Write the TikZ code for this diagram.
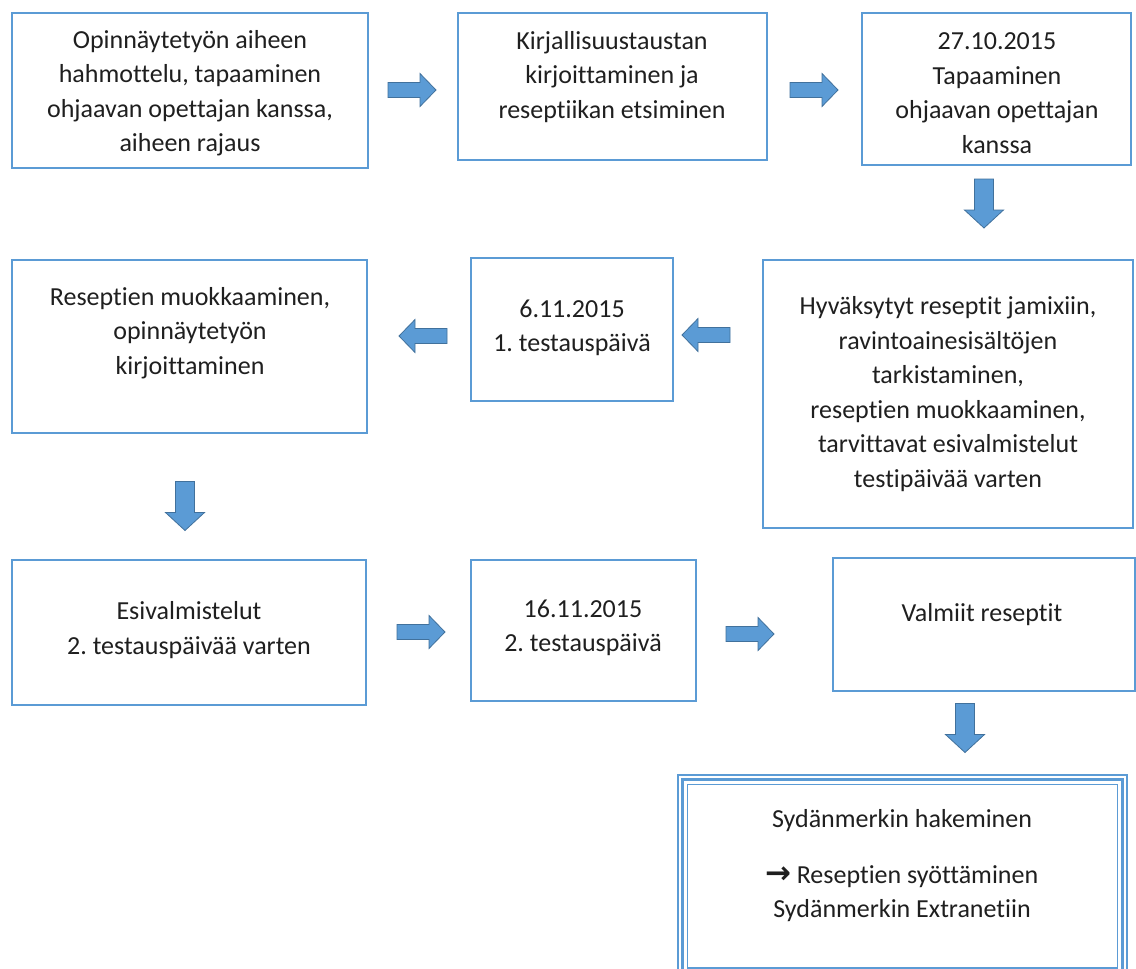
\documentclass[tikz,border=0pt]{standalone}
\usepackage{fontspec}
\setmainfont{Carlito}[RawFeature={-liga;-clig;-dlig;-calt;-rlig}]
\newfontfamily\arrowfont{DejaVu Sans}
\definecolor{boxblue}{HTML}{5B9BD5}
\definecolor{arrowfill}{HTML}{5B9BD5}
\definecolor{arrowedge}{HTML}{41719C}
\definecolor{txtcol}{HTML}{1F1F1F}
\frenchspacing
\tikzset{
  box/.style={draw=boxblue, line width=1.3pt, rectangle, inner sep=0pt, fill=white},
  txt/.style={align=center, inner sep=0pt, text=txtcol, font=\fontsize{26pt}{34.5pt}\selectfont},
  arrowbody/.style={fill=arrowfill, draw=arrowedge, line width=0.8pt, line join=miter},
  harrow/.pic={\draw[arrowbody] (-24,-7.5) -- (8,-7.5) -- (8,-16.5) -- (24,0) -- (8,16.5) -- (8,7.5) -- (-24,7.5) -- cycle;},
  varrow/.pic={\draw[arrowbody] (-24.5,-9.5) -- (6.5,-9.5) -- (6.5,-19.5) -- (24.5,0) -- (6.5,19.5) -- (6.5,9.5) -- (-24.5,9.5) -- cycle;}
}
\begin{document}
\begin{tikzpicture}[x=1pt,y=-1pt]
\useasboundingbox (0,0) rectangle (1136,969);
\fill[white] (0,0) rectangle (1136,969);

% boxes
\node[box, minimum width=356pt, minimum height=155pt] (b1) at (190,90.5) {};
\node[box, minimum width=309pt, minimum height=147pt] (b2) at (612.5,86.5) {};
\node[box, minimum width=269pt, minimum height=152pt] (b3) at (996.5,89) {};
\node[box, minimum width=355pt, minimum height=173pt] (b4) at (189.5,346.5) {};
\node[box, minimum width=202pt, minimum height=143pt] (b5) at (572,329.5) {};
\node[box, minimum width=370pt, minimum height=268pt] (b6) at (948,394) {};
\node[box, minimum width=354pt, minimum height=145pt] (b7) at (189,632.5) {};
\node[box, minimum width=225pt, minimum height=141pt] (b8) at (583.5,630.5) {};
\node[box, minimum width=302pt, minimum height=133pt] (b9) at (984,624.5) {};

% final box with triple border (clipped at page bottom)
\begin{scope}
\clip (0,0) rectangle (1136,969);
\draw[draw=boxblue, line width=1.8pt] (678,775) rectangle (1127,1010);
\draw[draw=boxblue, line width=2.8pt] (682.5,779.5) rectangle (1122.5,1010);
\node[box, line width=1.2pt, minimum width=430pt, minimum height=183.5pt] (b10) at (902.5,876.25) {};
\end{scope}

% texts
\node[txt] (t1) at (190,93) {Opinnäytetyön aiheen\\hahmottelu, tapaaminen\\ohjaavan opettajan kanssa,\\aiheen rajaus};
\node[txt] (t2) at (612,77) {Kirjallisuustaustan\\kirjoittaminen ja\\reseptiikan etsiminen};
\node[txt] (t3) at (997,93) {27.10.2015\\Tapaaminen\\ohjaavan opettajan\\kanssa};
\node[txt] (t4) at (190,333) {Reseptien muokkaaminen,\\opinnäytetyön\\kirjoittaminen};
\node[txt] (t5) at (572,328) {6.11.2015\\1. testauspäivä};
\node[txt] (t6) at (948,394) {Hyväksytyt reseptit jamixiin,\\ravintoainesisältöjen\\tarkistaminen,\\reseptien muokkaaminen,\\tarvittavat esivalmistelut\\testipäivää varten};
\node[txt] (t7) at (189,630) {Esivalmistelut\\2. testauspäivää varten};
\node[txt] (t8) at (583,628) {16.11.2015\\2. testauspäivä};
\node[txt] (t9) at (982,615) {Valmiit reseptit};
\node[txt] (t10) at (902,866) {Sydänmerkin hakeminen\\[21pt]{\arrowfont\bfseries\fontsize{31pt}{26pt}\selectfont →}\hspace{5pt}Reseptien syöttäminen\\Sydänmerkin Extranetiin};

% block arrows
\pic (a1) at (412,90) {harrow};
\pic (a2) at (814,90) {harrow};
\pic[rotate=-90] (a3) at (984,203.5) {varrow};
\pic[rotate=180] (a4) at (423,336) {harrow};
\pic[rotate=180] (a5) at (706,335) {harrow};
\pic[rotate=-90] (a6) at (185,506) {varrow};
\pic (a7) at (421,632) {harrow};
\pic (a8) at (750,634) {harrow};
\pic[rotate=-90] (a9) at (965,728) {varrow};
\end{tikzpicture}
\end{document}
